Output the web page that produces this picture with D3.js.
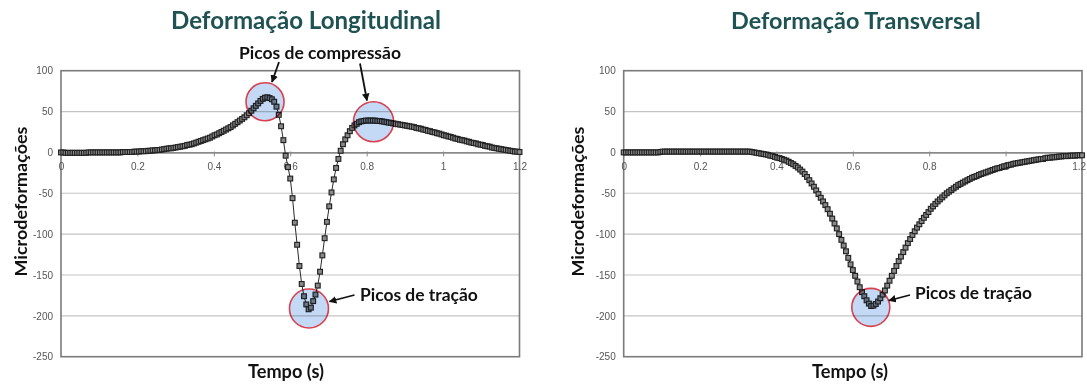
<!DOCTYPE html>
<html><head><meta charset="utf-8">
<script src="https://cdn.jsdelivr.net/npm/d3@7"></script>
<style>body{margin:0;background:#fff;} svg{display:block;}</style>
</head><body>
<svg id="chart" width="1087" height="385"></svg>
<script>
// ---------- DATA ----------
const timeStep = 0.006; // sampling interval (s)
const longitudinal = [
  0,0,-0.5,-0.5,-0.5,-0.5,-0.5,-0.5,-0.5,-0.5,
  -0.5,-0.5,0,0,0,0,0,0,0,0,
  0,0,0,0,0,0,0,0.5,0.5,0.5,
  0.5,0.5,1,1,1,1.5,1.5,1.5,2,2,
  2.5,2.5,3,3,3.5,4,4.5,5,5,5.5,
  6,6.5,7,7.5,8,9,9.5,10,11,12,
  13,14,15,16,17,18,19.5,21,22,23.5,
  25,26.5,28,29.5,31,33,35,37,39,41,
  43,45.5,48,51,54,57,60,63,65.5,67,
  67.5,66.5,65,62,56,46,32,15,-4,-18,
  -32,-56,-86,-113,-139,-161,-176,-186,-192,-190,
  -182,-174,-163,-146,-126,-105,-85,-66,-49,-33,
  -19,-8,2,10,16,21,26,30,33,35,
  37,38,38.5,39,39,39,39,39,38.5,38.5,
  38,37.5,37,36.5,36,35.5,35,34.5,34,33.5,
  33,32.5,32,31.5,31,30,29.5,29,28,27.5,
  26.5,26,25,24.5,23.5,23,22,21,20.5,19.5,
  19,18,17,16.5,15.5,15,14.5,13.5,13,12,
  11.5,11,10,9.5,9,8,7.5,7,6,5.5,
  5,4.5,4,3.5,3,2.5,2,1.5,1,1,
  0.5
];
const transversal = [
  0,0,0,0,0,0,0,0,0,0,
  0,0,0,0,0,0,0.5,1,1,1,
  1,1,1,1,1,1,1,1,1,1,
  1,1,1,1,1,1,1,1,1,1,
  1,1,1,1,1,1,1,1,1,1,
  1,1,1,1,1,1,0.5,0,-0.5,-1,
  -1.5,-2,-2.5,-3,-4,-4.5,-5.5,-6.5,-7,-8,
  -9,-10,-11.5,-13,-14.5,-16.5,-18.5,-21,-23.5,-26.5,
  -30,-34,-38,-42,-46.5,-51,-55.5,-60,-64.5,-69.5,
  -75,-81,-87,-93,-100,-107,-114,-121,-129,-137,
  -144,-151,-158,-165,-171,-176,-181,-185,-188,-187.5,
  -185.5,-182.5,-178.5,-174,-169,-163,-157,-151,-145,-139,
  -133,-127.5,-122,-116.5,-111,-106,-101,-96.5,-92,-88,
  -84,-80,-76.5,-73,-69,-66,-63,-60,-57.5,-55,
  -52.5,-50,-48,-46,-44,-42,-40,-38.5,-37,-35.5,
  -34,-32.5,-31,-30,-29,-27.5,-26.5,-25.5,-24.5,-23.5,
  -22.5,-21.5,-20.5,-19.5,-19,-18,-17,-16.5,-15.5,-15,
  -14,-13.5,-13,-12.5,-12,-11.5,-11,-10.5,-10,-9.5,
  -9,-8.5,-8,-8,-7,-6.5,-6.5,-6,-6,-5.5,
  -5,-5,-4.5,-4.5,-4.5,-4,-4,-4,-3.5,-3.5,
  -3.5
];
const xTicks = [0, 0.2, 0.4, 0.6, 0.8, 1, 1.2];
const xTickLabels = ["0", "0.2", "0.4", "0.6", "0.8", "1", "1.2"];
const yTicks = [100, 50, 0, -50, -100, -150, -200, -250];
const yTickLabels = ["100", "50", "0", "-50", "-100", "-150", "-200", "-250"];
const titles = ["Deformação Longitudinal", "Deformação Transversal"];
const yAxisTitle = "Microdeformações";
const xAxisTitle = "Tempo (s)";
const compressionLabel = "Picos de compressão";
const tractionLabel = "Picos de tração";
// highlighted peaks (time, value) for each panel
const longPeaks = [[0.534, 62], [0.818, 37.6], [0.649, -191]];
const transPeaks = [[0.647, -189.6]];

// ---------- LAYOUT ----------
const svg = d3.select("#chart");
const FONT = "Lato, 'Open Sans', sans-serif";
const TICKFONT = "'Liberation Sans', Arial, sans-serif";
const W = 1087;

svg.append("defs").append("marker")
  .attr("id", "ah").attr("viewBox", "0 0 10 10").attr("refX", 9).attr("refY", 5)
  .attr("markerWidth", 4.2).attr("markerHeight", 4.2).attr("orient", "auto")
  .attr("markerUnits", "strokeWidth")
  .append("path").attr("d", "M0,0 L10,5 L0,10 z").attr("fill", "#111");

function fit(sel, target) {
  const w = sel.node().getComputedTextLength();
  const fs = parseFloat(sel.attr("font-size"));
  sel.attr("font-size", (fs * target / w).toFixed(2));
}

const panels = [
  { title: titles[0], values: longitudinal, px: [61, 519.5], titleX: 306, titleW: 270,
    ylabX: 20, xlabX: 286, peaks: longPeaks, radii: [19, 20, 19.5] },
  { title: titles[1], values: transversal, px: [623.7, 1082], titleX: 856, titleW: 250,
    ylabX: 577, xlabX: 850, peaks: transPeaks, radii: [19] }
];

const PY = [356.7, 70.7];

panels.forEach((p, pi) => {
  const x = d3.scaleLinear().domain([0, 1.2]).range(p.px);
  const y = d3.scaleLinear().domain([-250, 100]).range(PY);
  const g = svg.append("g");
  const pts = p.values.map((v, i) => ({ t: +(i * timeStep).toFixed(3), v }));

  // gridlines
  g.append("g").selectAll("line").data(yTicks.filter(d => d !== 0 && d !== 100 && d !== -250))
    .join("line")
    .attr("x1", p.px[0]).attr("x2", p.px[1])
    .attr("y1", d => y(d)).attr("y2", d => y(d))
    .attr("stroke", "#c4c4c4").attr("stroke-width", 1.2);

  // frame
  g.append("rect")
    .attr("x", p.px[0]).attr("y", PY[1])
    .attr("width", p.px[1] - p.px[0]).attr("height", PY[0] - PY[1])
    .attr("fill", "none").attr("stroke", "#7a7a7a").attr("stroke-width", 1.6);

  // x axis at zero
  const xa = g.append("g").attr("transform", `translate(0,${y(0)})`)
    .call(d3.axisBottom(x).tickValues(xTicks).tickSize(4).tickSizeOuter(0).tickPadding(6)
      .tickFormat((d, i) => xTickLabels[i]));
  xa.select(".domain").attr("stroke", "#8a8a8a").attr("stroke-width", 1.6);
  xa.selectAll(".tick line").attr("stroke", "#8a8a8a").attr("y1", -1);
  xa.selectAll(".tick text").attr("font-family", TICKFONT).attr("font-size", 10).attr("fill", "#555");
  // keep the last label inside the page
  xa.selectAll(".tick text").each(function(d) {
    const bb = this.getBBox();
    const absRight = x(d) + bb.x + bb.width;
    if (absRight > W - 1) d3.select(this).attr("x", (W - 1) - absRight);
  });

  // y axis labels
  const ya = g.append("g").attr("transform", `translate(${p.px[0]},0)`)
    .call(d3.axisLeft(y).tickValues(yTicks).tickSize(0).tickPadding(8)
      .tickFormat((d, i) => yTickLabels[i]));
  ya.select(".domain").remove();
  ya.selectAll(".tick text").attr("font-family", TICKFONT).attr("font-size", 10).attr("fill", "#555");

  // line
  g.append("path").datum(pts)
    .attr("d", d3.line().x(d => x(d.t)).y(d => y(d.v)))
    .attr("fill", "none").attr("stroke", "#2a2a2a").attr("stroke-width", 1);

  // markers
  g.append("g").selectAll("rect").data(pts).join("rect")
    .attr("x", d => x(d.t) - 2.4).attr("y", d => y(d.v) - 2.4)
    .attr("width", 4.8).attr("height", 4.8)
    .attr("fill", "#8a8a8a").attr("stroke", "#222").attr("stroke-width", 1.15);

  // highlight circles (tint markers beneath)
  g.append("g").selectAll("circle").data(p.peaks).join("circle")
    .attr("cx", d => x(d[0])).attr("cy", d => y(d[1]))
    .attr("r", (d, i) => p.radii[i])
    .attr("fill", "#c4d9f5").style("mix-blend-mode", "multiply")
    .attr("stroke", "#d8404f").attr("stroke-width", 1.6);

  // title
  const t = g.append("text").text(p.title)
    .attr("x", p.titleX).attr("y", 28.5).attr("text-anchor", "middle")
    .attr("font-family", FONT).attr("font-weight", 700).attr("font-size", 21)
    .attr("fill", "#1f5252");
  fit(t, p.titleW);

  // axis titles
  const yl = g.append("text").text(yAxisTitle)
    .attr("transform", `translate(${p.ylabX},201.5) rotate(-90)`)
    .attr("text-anchor", "middle").attr("dominant-baseline", "central")
    .attr("font-family", FONT).attr("font-weight", 700).attr("font-size", 16).attr("fill", "#111");
  fit(yl, 150);
  const xl = g.append("text").text(xAxisTitle)
    .attr("x", p.xlabX).attr("y", 378).attr("text-anchor", "middle")
    .attr("font-family", FONT).attr("font-weight", 700).attr("font-size", 16).attr("fill", "#111");
  fit(xl, 76);
});

// ---------- ANNOTATIONS ----------
function arrow(x1, y1, x2, y2) {
  svg.append("line").attr("x1", x1).attr("y1", y1).attr("x2", x2).attr("y2", y2)
    .attr("stroke", "#111").attr("stroke-width", 1.8).attr("marker-end", "url(#ah)");
}
function label(txt, x, y, w, anchor) {
  const s = svg.append("text").text(txt).attr("x", x).attr("y", y)
    .attr("text-anchor", anchor)
    .attr("font-family", FONT).attr("font-weight", 700).attr("font-size", 16).attr("fill", "#111");
  fit(s, w);
}
label(compressionLabel, 320, 58.5, 162, "middle");
arrow(279, 62, 272, 82);
arrow(360, 63.5, 367, 100.5);
label(tractionLabel, 360, 300.5, 118, "start");
arrow(354.5, 295, 329.5, 301.5);
label(tractionLabel, 915, 298.5, 117, "start");
arrow(910, 295, 889, 300.5);
</script>
</body></html>
